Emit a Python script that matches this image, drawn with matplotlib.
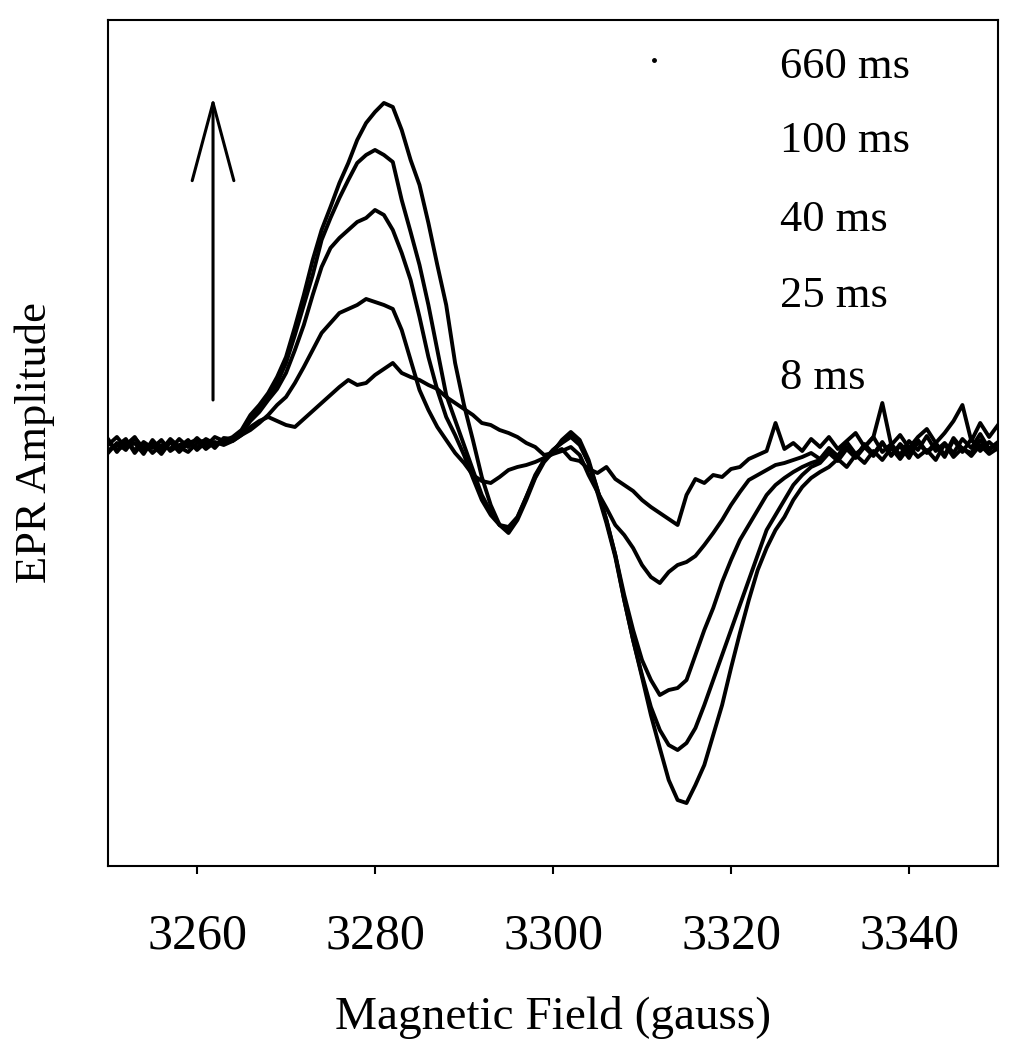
import numpy as np
import matplotlib
matplotlib.use('Agg')
import matplotlib.pyplot as plt

plt.rcParams['font.family'] = ['Liberation Serif', 'DejaVu Serif']

# magnetic field axis (gauss), 1 G steps
field = np.arange(3250, 3351)

# EPR amplitude (arb. units)
amp_660 = [6, -7, 4, -5, 2, -8, 0, -4, 6, -2, 7, -1, 8, 4,
           8, 15, 30, 40, 52, 68, 88, 118, 150, 185, 215, 238, 262, 282, 305, 322,
           333, 342, 338, 315, 285, 260, 222, 180, 140, 82, 40, 5, -32, -60, -80, -88,
           -75, -55, -33, -17, -7, 5, 13, 5, -15, -45, -75, -110, -155, -195, -232,
           -270, -303, -335, -355, -358, -340, -320, -290, -260, -223, -188, -155, -125,
           -103, -85, -72, -55, -42, -33, -27, -22, -14, -22, -10, -18, -6, -15, -3,
           -14, -2, -12, -5, -15, 1, -12, -3, -11, 0, -9, -3]
amp_100 = [-8, 2, -5, 7, -3, 0, -9, 3, -2, 5, -5, 3, 0, 6,
           6, 14, 26, 36, 48, 62, 82, 110, 140, 170, 205, 227, 247, 265, 282, 290,
           295, 290, 283, 245, 213, 180, 140, 95, 50, 25, 0, -25, -50, -67, -80, -85,
           -73, -52, -30, -15, -5, 3, 10, 2, -18, -48, -78, -112, -155, -195, -230,
           -262, -285, -300, -305, -298, -283, -260, -235, -210, -185, -160, -135, -110,
           -85, -70, -55, -40, -30, -22, -18, -8, -16, -4, -13, -2, -11, 2, -10,
           -1, -13, 3, -8, 0, -12, 5, -7, 6, -6, 3, -5]
amp_40 = [0, 8, -3, 2, -9, 5, -5, 6, -2, -7, 2, 5, -3, 7,
          6, 12, 24, 33, 45, 56, 72, 95, 120, 150, 178, 197, 207, 215, 223, 227,
          235, 230, 215, 192, 165, 128, 88, 55, 28, 10, -10, -33, -55, -70, -80, -82,
          -72, -52, -32, -15, -5, 2, 8, 0, -18, -45, -75, -110, -150, -185, -215,
          -235, -250, -245, -243, -235, -210, -185, -163, -137, -115, -95, -80, -65,
          -50, -40, -33, -27, -22, -18, -15, -6, -14, -2, -12, 1, -9, 3, -11,
          1, -8, 5, -7, 2, -10, 7, -4, -8, 5, -5, 2]
amp_25 = [-5, -1, 6, -8, 3, -3, 5, -6, 0, 3, -3, 6, 1, 3,
          4, 10, 15, 22, 30, 40, 48, 62, 78, 95, 112, 122, 132, 136, 140, 146,
          143, 140, 136, 115, 85, 55, 35, 18, 5, -8, -18, -30, -36, -38, -32, -25,
          -22, -20, -17, -13, -9, -6, -2, -10, -30, -47, -63, -80, -90, -103, -120,
          -132, -138, -127, -120, -117, -111, -100, -88, -75, -60, -47, -35, -30,
          -25, -20, -18, -15, -12, -8, -14, -3, -11, 3, -9, -2, 8, -7, 1,
          -10, 4, -5, 9, -6, 2, -8, 6, -3, 11, -4, 3]
amp_8 = [3, -5, 0, 8, -6, 2, -2, 3, -7, 2, 5, -4, 3, 0,
         4, 10, 18, 24, 28, 24, 20, 18, 26, 34, 42, 50, 58, 65, 60, 62,
         70, 76, 82, 72, 68, 65, 60, 56, 48, 42, 36, 30, 22, 20, 15, 12,
         8, 2, -2, -10, -8, -4, -14, -16, -24, -28, -22, -34, -40, -46, -55,
         -62, -68, -74, -80, -50, -34, -38, -30, -32, -24, -22, -14, -10,
         -6, 22, -4, 2, -6, 6, -2, 8, -4, 4, 12, -2, 8, 42, 0,
         10, -3, 8, 16, 2, 12, 24, 40, 4, 22, 8, 20]

series = [amp_8, amp_25, amp_40, amp_100, amp_660]
labels = ['660 ms', '100 ms', '40 ms', '25 ms', '8 ms']
label_y = [0.931, 0.844, 0.751, 0.661, 0.564]

arrow_x = 3261.8
arrow_from, arrow_to = 45, 348
dot_x, dot_y = 3311.3, 385

fig = plt.figure(figsize=(10.16, 10.5), dpi=100)
ax = fig.add_axes([0.1063, 0.1752, 0.8760, 0.8058])

for s in series:
    ax.plot(field, s, color='black', lw=2.8)

ax.annotate('', xy=(arrow_x, arrow_to), xytext=(arrow_x, arrow_from),
            arrowprops=dict(arrowstyle='->, head_length=5.6, head_width=1.5',
                            mutation_scale=10, lw=2.2, color='black',
                            shrinkA=0, shrinkB=0))
ax.plot([dot_x], [dot_y], 'o', color='black', ms=2.5)

for lab, yy in zip(labels, label_y):
    ax.text(0.755, yy, lab, transform=ax.transAxes, fontsize=32,
            ha='left', va='baseline')

ax.set_xlim(3250, 3350)
ax.set_ylim(-421, 425)
ax.set_xticks([3260, 3280, 3300, 3320, 3340])
ax.set_yticks([])
ax.tick_params(axis='x', direction='out', length=6, width=1.5,
               labelsize=36, pad=28)
for sp in ax.spines.values():
    sp.set_linewidth(1.5)
ax.set_xlabel('Magnetic Field (gauss)', fontsize=34, labelpad=26)
ax.set_ylabel('EPR Amplitude', fontsize=32, labelpad=38)

fig.savefig('out.png', dpi=100)
